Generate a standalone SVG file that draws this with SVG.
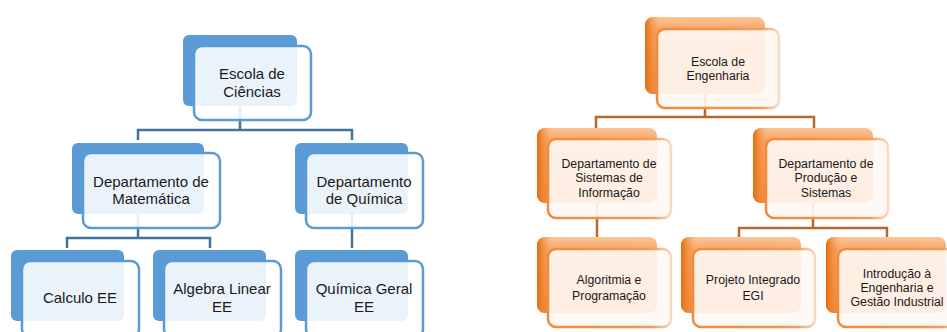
<svg xmlns="http://www.w3.org/2000/svg" width="947" height="332" viewBox="0 0 947 332">
<defs>
<linearGradient id="og" x1="0" y1="0" x2="0" y2="1">
<stop offset="0" stop-color="#FBC598"/>
<stop offset="0.18" stop-color="#F7A262"/>
<stop offset="1" stop-color="#F08A3C"/>
</linearGradient>
<linearGradient id="ogl" x1="0" y1="0" x2="1" y2="0">
<stop offset="0" stop-color="#E46C0A"/>
<stop offset="0.12" stop-color="#F59A55" stop-opacity="0"/>
</linearGradient>
<linearGradient id="os" x1="0" y1="0" x2="1" y2="0">
<stop offset="0" stop-color="#F08A3C"/>
<stop offset="0.85" stop-color="#F39B58"/>
<stop offset="1" stop-color="#FBD9C2"/>
</linearGradient>
<style>
.bb{fill:#5B9BD5}
.bf{fill:#FFFFFF;fill-opacity:0.88;stroke:#5B9BD5;stroke-width:2.5}
.ob{fill:url(#og)}
.obl{fill:url(#ogl)}
.of{fill:#FFF8F4;fill-opacity:0.9;stroke:url(#os);stroke-width:2.5}
.bt{font-family:"Liberation Sans",Arial,sans-serif;font-size:15px;fill:#1a1a1a;text-anchor:middle}
.ot{font-family:"Liberation Sans",Arial,sans-serif;font-size:12.3px;fill:#1a1a1a;text-anchor:middle}
.bc{fill:none;stroke:#41719C;stroke-width:2.5}
.oc{fill:none;stroke:#B8672C;stroke-width:2.5}
</style>
</defs>
<rect width="947" height="332" fill="#FFFFFF"/>
<g id="connectors">
<path class="bc" d="M240 106 V130 M138 140 V130 H352 V140"/>
<path class="bc" d="M138 214 V238 M67 248 V238 H210 V248"/>
<path class="bc" d="M352 214 V248"/>
<path class="oc" d="M705 94 V117 M596 128 V117 H814 V128"/>
<path class="oc" d="M597 203 V237"/>
<path class="oc" d="M813 203 V228 M739 237 V228 H887 V237"/>
</g>
<g id="escola-ciencias">
<rect class="bb" x="183" y="35" width="114" height="71" rx="6"/>
<rect class="bf" x="194" y="46" width="117" height="74" rx="8"/>
<text class="bt" x="252" y="79">Escola de</text>
<text class="bt" x="252" y="97">Ciências</text>
</g>
<g id="dep-matematica">
<rect class="bb" x="72" y="143" width="132" height="71" rx="6"/>
<rect class="bf" x="83" y="153" width="137" height="75" rx="8"/>
<text class="bt" x="151" y="187">Departamento de</text>
<text class="bt" x="151" y="204">Matemática</text>
</g>
<g id="dep-quimica">
<rect class="bb" x="295" y="143" width="113" height="71" rx="6"/>
<rect class="bf" x="306" y="153" width="117" height="75" rx="8"/>
<text class="bt" x="364" y="187">Departamento</text>
<text class="bt" x="364" y="204">de Química</text>
</g>
<g id="calculo">
<rect class="bb" x="11" y="250" width="113" height="71" rx="6"/>
<rect class="bf" x="22" y="261" width="117" height="76" rx="8"/>
<text class="bt" x="80" y="303">Calculo EE</text>
</g>
<g id="algebra">
<rect class="bb" x="153" y="250" width="113" height="71" rx="6"/>
<rect class="bf" x="164" y="261" width="117" height="76" rx="8"/>
<text class="bt" x="222" y="294">Algebra Linear</text>
<text class="bt" x="222" y="312">EE</text>
</g>
<g id="quimica-geral">
<rect class="bb" x="295" y="250" width="113" height="71" rx="6"/>
<rect class="bf" x="306" y="261" width="117" height="76" rx="8"/>
<text class="bt" x="364" y="294">Química Geral</text>
<text class="bt" x="364" y="312">EE</text>
</g>
<g id="escola-engenharia">
<rect class="ob" x="645" y="17" width="120" height="77" rx="8"/>
<rect class="obl" x="645" y="17" width="120" height="77" rx="8"/>
<rect class="of" x="657" y="29" width="122" height="79" rx="8"/>
<text class="ot" x="718" y="65.5">Escola de</text>
<text class="ot" x="718" y="79.5">Engenharia</text>
</g>
<g id="dep-sistemas-informacao">
<rect class="ob" x="537" y="128" width="120" height="75" rx="8"/>
<rect class="obl" x="537" y="128" width="120" height="75" rx="8"/>
<rect class="of" x="548" y="139" width="123" height="79" rx="8"/>
<text class="ot" x="609" y="167.5">Departamento de</text>
<text class="ot" x="609" y="182">Sistemas de</text>
<text class="ot" x="609" y="196.5">Informação</text>
</g>
<g id="dep-producao-sistemas">
<rect class="ob" x="753" y="128" width="120" height="75" rx="8"/>
<rect class="obl" x="753" y="128" width="120" height="75" rx="8"/>
<rect class="of" x="766" y="139" width="122" height="79" rx="8"/>
<text class="ot" x="826" y="167.5">Departamento de</text>
<text class="ot" x="826" y="182">Produção e</text>
<text class="ot" x="826" y="196.5">Sistemas</text>
</g>
<g id="algoritmia">
<rect class="ob" x="537" y="237" width="120" height="76" rx="8"/>
<rect class="obl" x="537" y="237" width="120" height="76" rx="8"/>
<rect class="of" x="548" y="249" width="123" height="78" rx="8"/>
<text class="ot" x="609" y="283.5">Algoritmia e</text>
<text class="ot" x="609" y="299.5">Programação</text>
</g>
<g id="projeto-egi">
<rect class="ob" x="681" y="237" width="120" height="76" rx="8"/>
<rect class="obl" x="681" y="237" width="120" height="76" rx="8"/>
<rect class="of" x="693" y="249" width="122" height="78" rx="8"/>
<text class="ot" x="753" y="283.5">Projeto Integrado</text>
<text class="ot" x="753" y="299.5">EGI</text>
</g>
<g id="introducao-egi">
<rect class="ob" x="826" y="237" width="120" height="76" rx="8"/>
<rect class="obl" x="826" y="237" width="120" height="76" rx="8"/>
<rect class="of" x="838" y="249" width="122" height="78" rx="8"/>
<text class="ot" x="897" y="277.5">Introdução à</text>
<text class="ot" x="897" y="291.5">Engenharia e</text>
<text class="ot" x="897" y="306">Gestão Industrial</text>
</g>
</svg>
